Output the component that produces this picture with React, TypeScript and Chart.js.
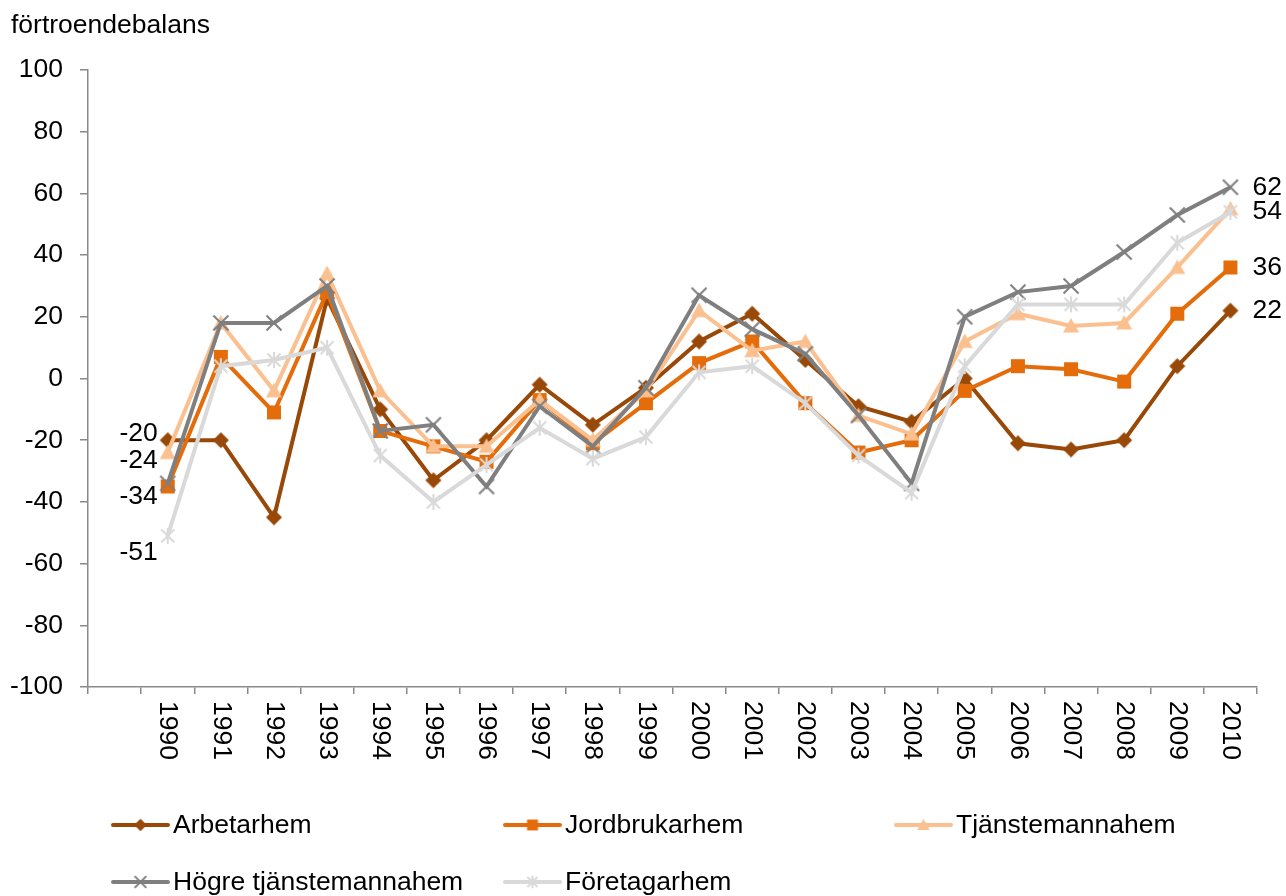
import React, { useEffect, useRef } from 'react';
import { Chart, registerables } from 'chart.js';

Chart.register(...registerables);

// ---- data ----
const years = ['', '1990', '1991', '1992', '1993', '1994', '1995', '1996', '1997', '1998', '1999', '2000', '2001', '2002', '2003', '2004', '2005', '2006', '2007', '2008', '2009', '2010'];
const arbetarhem = [null, -20, -20, -45, 26, -10, -33, -20, -2, -15, -3, 12, 21, 6, -9, -14, 0, -21, -23, -20, 4, 22];
const jordbrukarhem = [null, -35, 7, -11, 28, -17, -22, -27, -7, -21, -8, 5, 12, -8, -24, -20, -4, 4, 3, -1, 21, 36];
const tjanstemannahem = [null, -24, 18, -4, 34, -4, -22, -22, -7, -20, -4, 22, 9, 12, -12, -18, 12, 21, 17, 18, 36, 55];
const hogreTjanstemannahem = [null, -34, 18, 18, 30, -17, -15, -35, -9, -22, -3, 27, 16, 8, -12, -34, 20, 28, 30, 41, 53, 62];
const foretagarhem = [null, -51, 4, 6, 10, -25, -40, -28, -16, -26, -19, 2, 4, -8, -25, -37, 4, 24, 24, 24, 44, 54];
const seriesNames = ['Arbetarhem', 'Jordbrukarhem', 'Tjänstemannahem', 'Högre tjänstemannahem', 'Företagarhem'];
const yMin = -100;
const yMax = 100;
const yStep = 20;
const axisTitle = 'förtroendebalans';
const leftLabelSeries = [0, 2, 3, 4];
const rightLabelSeries = [3, 4, 1, 0];

// ---- styles ----
const FONT = '"Liberation Sans", Arial, sans-serif';
const FONT_SIZE = 26.5;
const COLORS = ['#984807', '#E46C0A', '#FAC090', '#7F7F7F', '#D9D9D9'];
const MARKERS = ['diamond', 'square', 'triangle', 'x', 'asterisk'];
const AXIS_COLOR = '#898989';
const leftLabelShift = [-7, 8, 13, 17];

function makeMarker(kind: string, color: string, s: number): HTMLCanvasElement {
  const size = 20;
  const c = document.createElement('canvas');
  c.width = size;
  c.height = size;
  const ctx = c.getContext('2d')!;
  const m = size / 2;
  ctx.fillStyle = color;
  ctx.strokeStyle = color;
  ctx.lineWidth = 2;
  ctx.beginPath();
  if (kind === 'diamond') {
    ctx.moveTo(m, m - 8 * s);
    ctx.lineTo(m + 8 * s, m);
    ctx.lineTo(m, m + 8 * s);
    ctx.lineTo(m - 8 * s, m);
    ctx.closePath();
    ctx.fill();
  } else if (kind === 'square') {
    ctx.rect(m - 7 * s, m - 7 * s, 14 * s, 14 * s);
    ctx.fill();
  } else if (kind === 'triangle') {
    ctx.moveTo(m, m - 8 * s);
    ctx.lineTo(m + 8 * s, m + 6.5 * s);
    ctx.lineTo(m - 8 * s, m + 6.5 * s);
    ctx.closePath();
    ctx.fill();
  } else if (kind === 'x') {
    ctx.moveTo(m - 7.5 * s, m - 7.5 * s);
    ctx.lineTo(m + 7.5 * s, m + 7.5 * s);
    ctx.moveTo(m + 7.5 * s, m - 7.5 * s);
    ctx.lineTo(m - 7.5 * s, m + 7.5 * s);
    ctx.stroke();
  } else {
    ctx.moveTo(m - 6.5 * s, m - 6.5 * s);
    ctx.lineTo(m + 6.5 * s, m + 6.5 * s);
    ctx.moveTo(m + 6.5 * s, m - 6.5 * s);
    ctx.lineTo(m - 6.5 * s, m + 6.5 * s);
    ctx.moveTo(m, m - 8 * s);
    ctx.lineTo(m, m + 8 * s);
    ctx.stroke();
  }
  return c;
}

export default function App() {
  const ref = useRef<HTMLCanvasElement | null>(null);

  useEffect(() => {
    const canvas = ref.current;
    if (!canvas) return;
    const seriesData = [arbetarhem, jordbrukarhem, tjanstemannahem, hogreTjanstemannahem, foretagarhem];
    const markers = MARKERS.map((k, i) => makeMarker(k, COLORS[i], 1));
    const legendMarkers = MARKERS.map((k, i) => makeMarker(k, COLORS[i], 0.78));

    const overlay = {
      id: 'overlay',
      afterDraw(chart: any) {
        const ctx = chart.ctx as CanvasRenderingContext2D;
        const xs = chart.scales.x;
        const ys = chart.scales.y;
        ctx.save();
        ctx.font = `${FONT_SIZE}px ${FONT}`;
        ctx.fillStyle = '#000';

        // axis title
        ctx.textAlign = 'left';
        ctx.textBaseline = 'middle';
        ctx.fillText(axisTitle, 11, 26);

        // rotated x labels (reading top to bottom)
        for (let i = 0; i < years.length; i++) {
          if (!years[i]) continue;
          const x = xs.getPixelForValue(i);
          ctx.save();
          ctx.translate(x, xs.top + 14);
          ctx.rotate(Math.PI / 2);
          ctx.textAlign = 'left';
          ctx.textBaseline = 'middle';
          ctx.fillText(years[i], 0, 0);
          ctx.restore();
        }

        // left data labels (first year)
        const firstIdx = 1;
        leftLabelSeries.forEach((s, k) => {
          const v = seriesData[s][firstIdx] as number;
          const x = xs.getPixelForValue(firstIdx);
          const y = ys.getPixelForValue(v);
          ctx.textAlign = 'right';
          ctx.textBaseline = 'middle';
          ctx.fillText(String(v), x - 10, y + leftLabelShift[k]);
        });

        // right data labels (last year)
        const lastIdx = years.length - 1;
        rightLabelSeries.forEach((s) => {
          const v = seriesData[s][lastIdx] as number;
          const x = xs.getPixelForValue(lastIdx);
          const y = ys.getPixelForValue(v);
          ctx.textAlign = 'left';
          ctx.textBaseline = 'middle';
          ctx.fillText(String(v), x + 22, y);
        });

        // legend
        const colX = [113, 505, 896];
        const rowY = [825, 882];
        seriesNames.forEach((name, i) => {
          const cx = colX[i % 3];
          const cy = rowY[Math.floor(i / 3)];
          ctx.strokeStyle = COLORS[i];
          ctx.lineWidth = 4;
          ctx.lineCap = 'round';
          ctx.beginPath();
          ctx.moveTo(cx, cy);
          ctx.lineTo(cx + 55, cy);
          ctx.stroke();
          const mk = legendMarkers[i];
          ctx.drawImage(mk, cx + 27.5 - mk.width / 2, cy - mk.height / 2);
          ctx.fillStyle = '#000';
          ctx.textAlign = 'left';
          ctx.textBaseline = 'middle';
          ctx.fillText(name, cx + 60, cy + 1);
        });
        ctx.restore();
      },
    };

    const chart = new Chart(canvas, {
      type: 'line',
      data: {
        labels: years,
        datasets: seriesNames.map((name, i) => ({
          label: name,
          data: seriesData[i],
          borderColor: COLORS[i],
          backgroundColor: COLORS[i],
          borderWidth: 4,
          tension: 0,
          pointStyle: markers[i] as any,
          pointRadius: 8,
          pointHoverRadius: 8,
          order: seriesNames.length - i,
          fill: false,
        })),
      },
      options: {
        responsive: false,
        animation: false,
        events: [],
        layout: { padding: { left: 0, top: 70, right: 29, bottom: 0 } },
        plugins: {
          legend: { display: false },
          tooltip: { enabled: false },
          title: { display: false },
        },
        scales: {
          x: {
            type: 'category',
            offset: true,
            grid: {
              offset: true,
              drawOnChartArea: false,
              drawTicks: true,
              tickLength: 7,
              color: AXIS_COLOR,
              lineWidth: 1.5,
            },
            border: { display: true, color: AXIS_COLOR, width: 1.5 },
            ticks: { display: false, autoSkip: false },
            afterFit: (scale: any) => {
              scale.height = 209;
            },
          },
          y: {
            min: yMin,
            max: yMax,
            grid: {
              drawOnChartArea: false,
              drawTicks: true,
              tickLength: 8,
              color: AXIS_COLOR,
              lineWidth: 1.5,
            },
            border: { display: true, color: AXIS_COLOR, width: 1.5 },
            ticks: {
              stepSize: yStep,
              color: '#000',
              padding: 17,
              font: { family: FONT, size: FONT_SIZE },
            },
            afterFit: (scale: any) => {
              scale.width = 88;
            },
          },
        },
      },
      plugins: [overlay],
    });

    return () => chart.destroy();
  }, []);

  return (
    <div style={{ position: 'fixed', left: 0, top: 0, width: 1286, height: 896, background: '#fff' }}>
      <canvas ref={ref} width={1286} height={896} style={{ width: 1286, height: 896, display: 'block' }} />
    </div>
  );
}
